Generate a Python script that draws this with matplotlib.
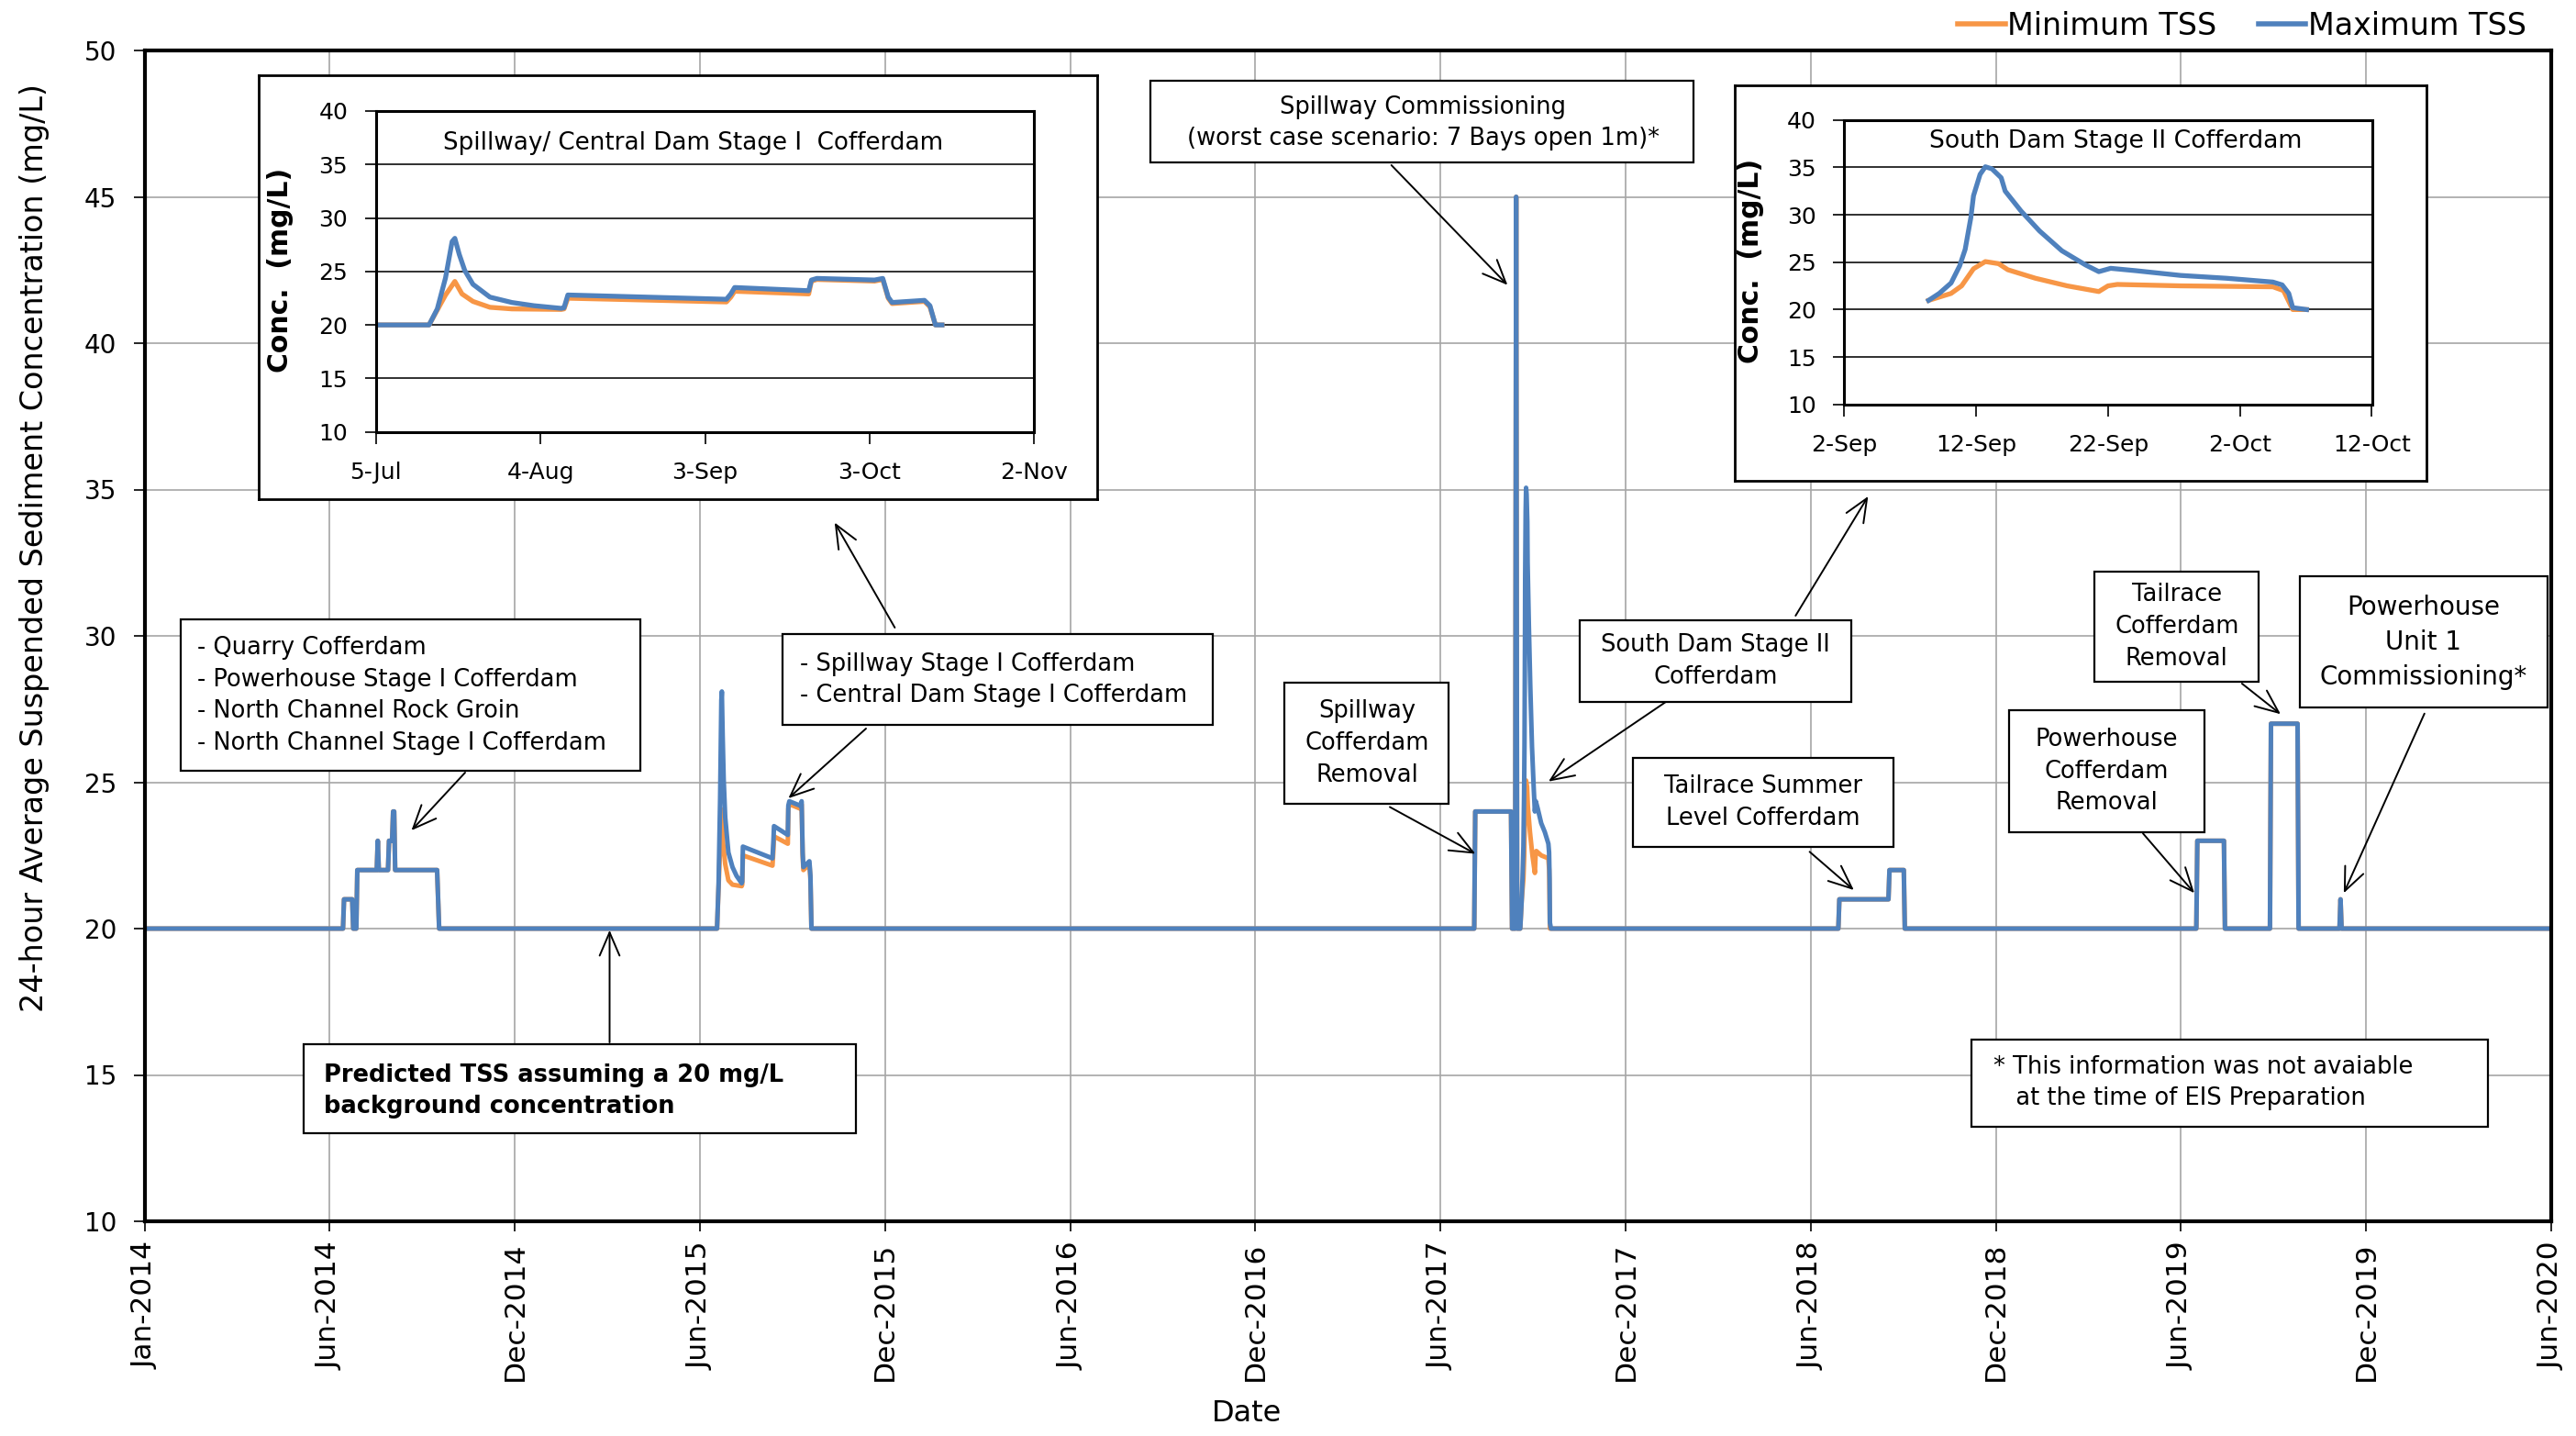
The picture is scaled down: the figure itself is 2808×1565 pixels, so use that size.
import numpy as np
import pandas as pd
import matplotlib
matplotlib.use('Agg')
import matplotlib.pyplot as plt
import matplotlib.dates as mdates
from matplotlib.patches import Rectangle, FancyArrowPatch
from matplotlib.lines import Line2D

W, H = 2808, 1565
plt.rcParams['font.family'] = ['DejaVu Sans']

ORANGE = '#F79646'
BLUE = '#4F81BD'

# ---- data ----
axis_start = pd.Timestamp('2014-01-01')
tick_step = 181
tick_labels = ['Jan-2014', 'Jun-2014', 'Dec-2014', 'Jun-2015', 'Dec-2015', 'Jun-2016',
               'Dec-2016', 'Jun-2017', 'Dec-2017', 'Jun-2018', 'Dec-2018', 'Jun-2019',
               'Dec-2019', 'Jun-2020']

# 2014: quarry / powerhouse stage I / north channel works (min = max)
ev2014_dates = ['2014-07-14', '2014-07-15', '2014-07-23', '2014-07-24', '2014-07-27', '2014-07-28',
                '2014-08-16', '2014-08-17', '2014-08-18', '2014-08-27', '2014-08-28', '2014-08-31',
                '2014-09-01', '2014-09-02', '2014-09-03', '2014-10-14', '2014-10-16']
ev2014_tss = [20, 21, 21, 20, 20, 22, 22, 23, 22, 22, 23, 23, 24, 24, 22, 22, 20]

# Spillway / Central Dam Stage I cofferdam (inset 1), days after 5-Jul-2015
spill_start = pd.Timestamp('2015-07-05')
spill_max_days = [0, 9.7, 11.2, 12.7, 13.9, 14.4, 15.2, 16.2, 17.7, 20.8, 24.8, 28.8, 33.8, 34.3,
                  35.0, 63.9, 64.7, 65.4, 78.9, 79.4, 80.4, 90.9, 92.4, 93.4, 94.1, 100.0, 101.0,
                  102.0, 103.2]
spill_max = [20, 20, 21.5, 24.4, 27.8, 28.1, 26.6, 25.1, 23.8, 22.6, 22.1, 21.8, 21.55, 21.6,
             22.8, 22.4, 22.9, 23.5, 23.2, 24.2, 24.35, 24.2, 24.35, 22.6, 22.1, 22.3, 21.8,
             20.0, 20.0]
spill_min_days = [0, 9.7, 11.2, 12.7, 14.4, 15.7, 17.7, 20.8, 24.8, 33.8, 34.3, 35.0, 63.9,
                  64.7, 65.4, 78.9, 79.4, 80.4, 90.9, 92.4, 93.4, 94.1, 100.0, 101.0, 102.0, 103.2]
spill_min = [20, 20, 21.4, 22.8, 24.07, 22.9, 22.2, 21.65, 21.5, 21.45, 21.5, 22.5, 22.15,
             22.6, 23.15, 22.9, 24.1, 24.25, 24.1, 24.25, 22.5, 22.0, 22.2, 21.7, 20.0, 20.0]

# 2017: spillway cofferdam removal + spillway commissioning (min = max)
ev2017_dates = ['2017-07-24', '2017-07-25', '2017-08-29', '2017-08-30', '2017-09-02',
                '2017-09-03', '2017-09-04', '2017-09-07']
ev2017_tss = [20, 24, 24, 20, 20, 45, 20, 20]

# South Dam Stage II cofferdam (inset 2), days after 2-Sep-2017
south_start = pd.Timestamp('2017-09-02')
south_max_days = [6.4, 7.2, 8.1, 8.75, 9.17, 9.6, 9.8, 10.3, 10.7, 11.2, 11.9, 12.2, 13.4, 14.8,
                  16.5, 18.3, 19.3, 20.2, 22.1, 25.5, 29.0, 32.5, 33.2, 33.7, 34.0, 35.05]
south_max = [20.97, 21.7, 22.8, 24.6, 26.35, 29.7, 32.0, 34.26, 35.06, 34.84, 33.9, 32.5, 30.4,
             28.3, 26.2, 24.7, 24.0, 24.35, 24.1, 23.6, 23.3, 22.9, 22.6, 21.7, 20.2, 20.0]
south_min_days = [6.4, 8.1, 8.9, 9.8, 10.7, 11.7, 12.4, 14.5, 16.9, 19.3, 20.0, 20.7, 25.5,
                  32.5, 33.3, 34.0, 35.05]
south_min = [20.97, 21.7, 22.5, 24.3, 25.06, 24.84, 24.2, 23.3, 22.5, 21.9, 22.5, 22.65, 22.5,
             22.4, 22.0, 20.0, 20.0]

# 2018-2019: tailrace / powerhouse works (min = max)
late_dates = ['2018-07-15', '2018-07-16', '2018-09-02', '2018-09-03', '2018-09-17', '2018-09-18',
              '2019-06-30', '2019-07-01', '2019-07-27', '2019-07-28',
              '2019-09-10', '2019-09-11', '2019-10-07', '2019-10-08',
              '2019-11-17', '2019-11-18', '2019-11-19']
late_tss = [20, 21, 21, 22, 22, 20, 20, 23, 23, 20, 20, 27, 27, 20, 20, 21, 20]

axis_end = axis_start + pd.Timedelta(days=13 * tick_step)


def offs(start, days):
    return list(start + pd.to_timedelta(days, unit='D'))


def series(sp_days, sp_vals, so_days, so_vals):
    x = ([axis_start] + list(pd.to_datetime(ev2014_dates)) + offs(spill_start, sp_days)
         + list(pd.to_datetime(ev2017_dates)) + offs(south_start, so_days)
         + list(pd.to_datetime(late_dates)) + [axis_end])
    y = [20] + ev2014_tss + sp_vals + ev2017_tss + so_vals + late_tss + [20]
    return x, y


min_x, min_y = series(spill_min_days, spill_min, south_min_days, south_min)
max_x, max_y = series(spill_max_days, spill_max, south_max_days, south_max)


def fxy(x, y):
    return (x / W, 1 - y / H)


fig = plt.figure(figsize=(W / 100, H / 100), dpi=100)
ax = fig.add_axes([157.6 / W, 1 - 1331 / H, (2781 - 157.6) / W, (1331 - 55) / H])

ax.plot(min_x, min_y, color=ORANGE, lw=3.6, solid_joinstyle='round')
ax.plot(max_x, max_y, color=BLUE, lw=3.6, solid_joinstyle='round')

ax.set_xlim(axis_start, axis_end)
ax.set_ylim(10, 50)
ax.set_yticks(np.arange(10, 51, 5))
ax.set_xticks([axis_start + pd.Timedelta(days=i * tick_step) for i in range(14)])
ax.set_xticklabels(tick_labels, rotation=90, fontsize=22.5)
ax.tick_params(axis='y', labelsize=20, length=9, width=1.2, pad=13, direction='out')
ax.tick_params(axis='x', length=8, width=1.2, pad=8, direction='out')
ax.grid(True, color='#A6A6A6', lw=1.2)
ax.set_axisbelow(True)
for s in ax.spines.values():
    s.set_linewidth(3)
ax.set_ylabel('24-hour Average Suspended Sediment Concentration (mg/L)', fontsize=24)
ax.yaxis.set_label_coords(-0.0395, 0.575)
ax.set_xlabel('Date', fontsize=23)
ax.xaxis.set_label_coords(0.458, -0.152)

handles = [Line2D([], [], color=ORANGE, lw=4), Line2D([], [], color=BLUE, lw=4)]
ax.legend(handles, ['Minimum TSS', 'Maximum TSS'], loc='center right',
          bbox_to_anchor=(2754 / W, 1 - 28 / H), bbox_transform=fig.transFigure,
          ncol=2, frameon=False, fontsize=24, handlelength=1.55, handletextpad=0.08,
          columnspacing=1.35, borderpad=0, borderaxespad=0)


# ---- insets ----
def inset(box, axbox, start, days, step, fmt_vals, title, title_xy, title_size, ylab_x):
    bx = fig.add_axes([box[0] / W, 1 - box[3] / H, (box[2] - box[0]) / W, (box[3] - box[1]) / H])
    bx.set_xticks([])
    bx.set_yticks([])
    bx.set_zorder(3)
    for s in bx.spines.values():
        s.set_linewidth(2)
    ia = fig.add_axes([axbox[0] / W, 1 - axbox[3] / H, (axbox[2] - axbox[0]) / W,
                       (axbox[3] - axbox[1]) / H])
    ia.set_zorder(4)
    for lo_d, lo_v, col in fmt_vals:
        ia.plot(offs(start, lo_d), lo_v, color=col, lw=3.8, solid_joinstyle='round')
    ia.set_xlim(start, start + pd.Timedelta(days=days))
    ia.set_xticks([start + pd.Timedelta(days=d) for d in range(0, days + 1, step)])
    ia.xaxis.set_major_formatter(mdates.DateFormatter('%-d-%b'))
    ia.set_ylim(10, 40)
    ia.set_yticks(np.arange(10, 41, 5))
    ia.tick_params(labelsize=18, length=9, width=1.2, direction='out')
    ia.tick_params(axis='y', pad=13)
    ia.tick_params(axis='x', pad=14)
    ia.grid(True, axis='y', color='#202020', lw=1.3)
    ia.set_axisbelow(True)
    for s in ia.spines.values():
        s.set_linewidth(2.2)
    ia.text(title_xy[0], title_xy[1], title, transform=ia.transAxes, ha='center', va='center',
            fontsize=title_size)
    ia.set_ylabel('Conc.  (mg/L)', fontsize=21.5, fontweight='bold')
    ia.yaxis.set_label_coords(ylab_x, 0.505)
    return ia


inset((282, 82, 1196, 544), (409.7, 121, 1127.3, 470.7), spill_start, 120, 30,
      [(spill_min_days, spill_min, ORANGE), (spill_max_days, spill_max, BLUE)],
      'Spillway/ Central Dam Stage I  Cofferdam', (0.482, 0.90), 18.8, -0.125)
inset((1891, 93, 2645, 524), (2010.3, 130.7, 2585.5, 440.7), south_start, 40, 10,
      [(south_min_days, south_min, ORANGE), (south_max_days, south_max, BLUE)],
      'South Dam Stage II Cofferdam', (0.515, 0.925), 19.2, -0.152)


# ---- annotation boxes and arrows ----
def note(x0, y0, x1, y1, text, tx, ty, ha='center', size=18.5, weight='normal', ls=1.43):
    fig.add_artist(Rectangle(fxy(x0, y1), (x1 - x0) / W, (y1 - y0) / H,
                             transform=fig.transFigure, facecolor='white',
                             edgecolor='black', lw=1.6, zorder=5))
    fig.text(*fxy(tx, ty), text, ha=ha, va='center', fontsize=size, fontweight=weight,
             linespacing=ls, zorder=6)


def arrow(x0, y0, x1, y1):
    fig.add_artist(FancyArrowPatch(fxy(x0, y0), fxy(x1, y1), transform=fig.transFigure,
                                   arrowstyle='->,head_length=0.7,head_width=0.3',
                                   mutation_scale=26, lw=1.4, color='black',
                                   shrinkA=0, shrinkB=0, zorder=6))


note(197, 675, 698, 840,
     '- Quarry Cofferdam\n- Powerhouse Stage I Cofferdam\n- North Channel Rock Groin\n'
     '- North Channel Stage I Cofferdam', 215, 758, ha='left')
arrow(507, 842, 448.5, 905)

note(852.5, 691, 1322, 790, '- Spillway Stage I Cofferdam\n- Central Dam Stage I Cofferdam',
     872, 741, ha='left')
arrow(944, 794, 859.4, 870)
arrow(975.4, 684, 909.8, 569.5)

note(331, 1138, 933, 1235, 'Predicted TSS assuming a 20 mg/L\nbackground concentration',
     352.7, 1189, ha='left', weight='bold')
arrow(664.5, 1136, 664.5, 1013.7)

note(1254, 88, 1846, 177, 'Spillway Commissioning\n(worst case scenario: 7 Bays open 1m)*',
     1551, 134)
arrow(1516.7, 180, 1643.3, 310.6)

note(1400, 744, 1579, 876, 'Spillway\nCofferdam\nRemoval', 1490, 810)
arrow(1515, 879.5, 1608.3, 930.5)

note(1722.4, 676, 2017.7, 765, 'South Dam Stage II\nCofferdam', 1870, 720.5)
arrow(1815.8, 765, 1688, 851.7)
arrow(1957.3, 671, 2036.4, 540.9)

note(1779.8, 825.7, 2064.4, 923.3, 'Tailrace Summer\nLevel Cofferdam', 1922, 874.5)
arrow(1972.6, 928.3, 2020.8, 970)

note(2190, 774, 2403.4, 907.3, 'Powerhouse\nCofferdam\nRemoval', 2296.6, 840.7)
arrow(2336, 908.3, 2392, 973.3)

note(2283.2, 623.3, 2462.3, 742.7, 'Tailrace\nCofferdam\nRemoval', 2372.8, 683)
arrow(2443.9, 745, 2486, 778.3)

note(2506.6, 628.3, 2776.7, 771, 'Powerhouse\nUnit 1\nCommissioning*', 2641.7, 699.7,
     size=20, ls=1.45)
arrow(2642.8, 777.7, 2554.9, 973.3)

note(2149, 1133, 2712, 1228, '* This information was not avaiable\n   at the time of EIS Preparation',
     2173, 1180, ha='left')

fig.savefig('out.png', dpi=100)
